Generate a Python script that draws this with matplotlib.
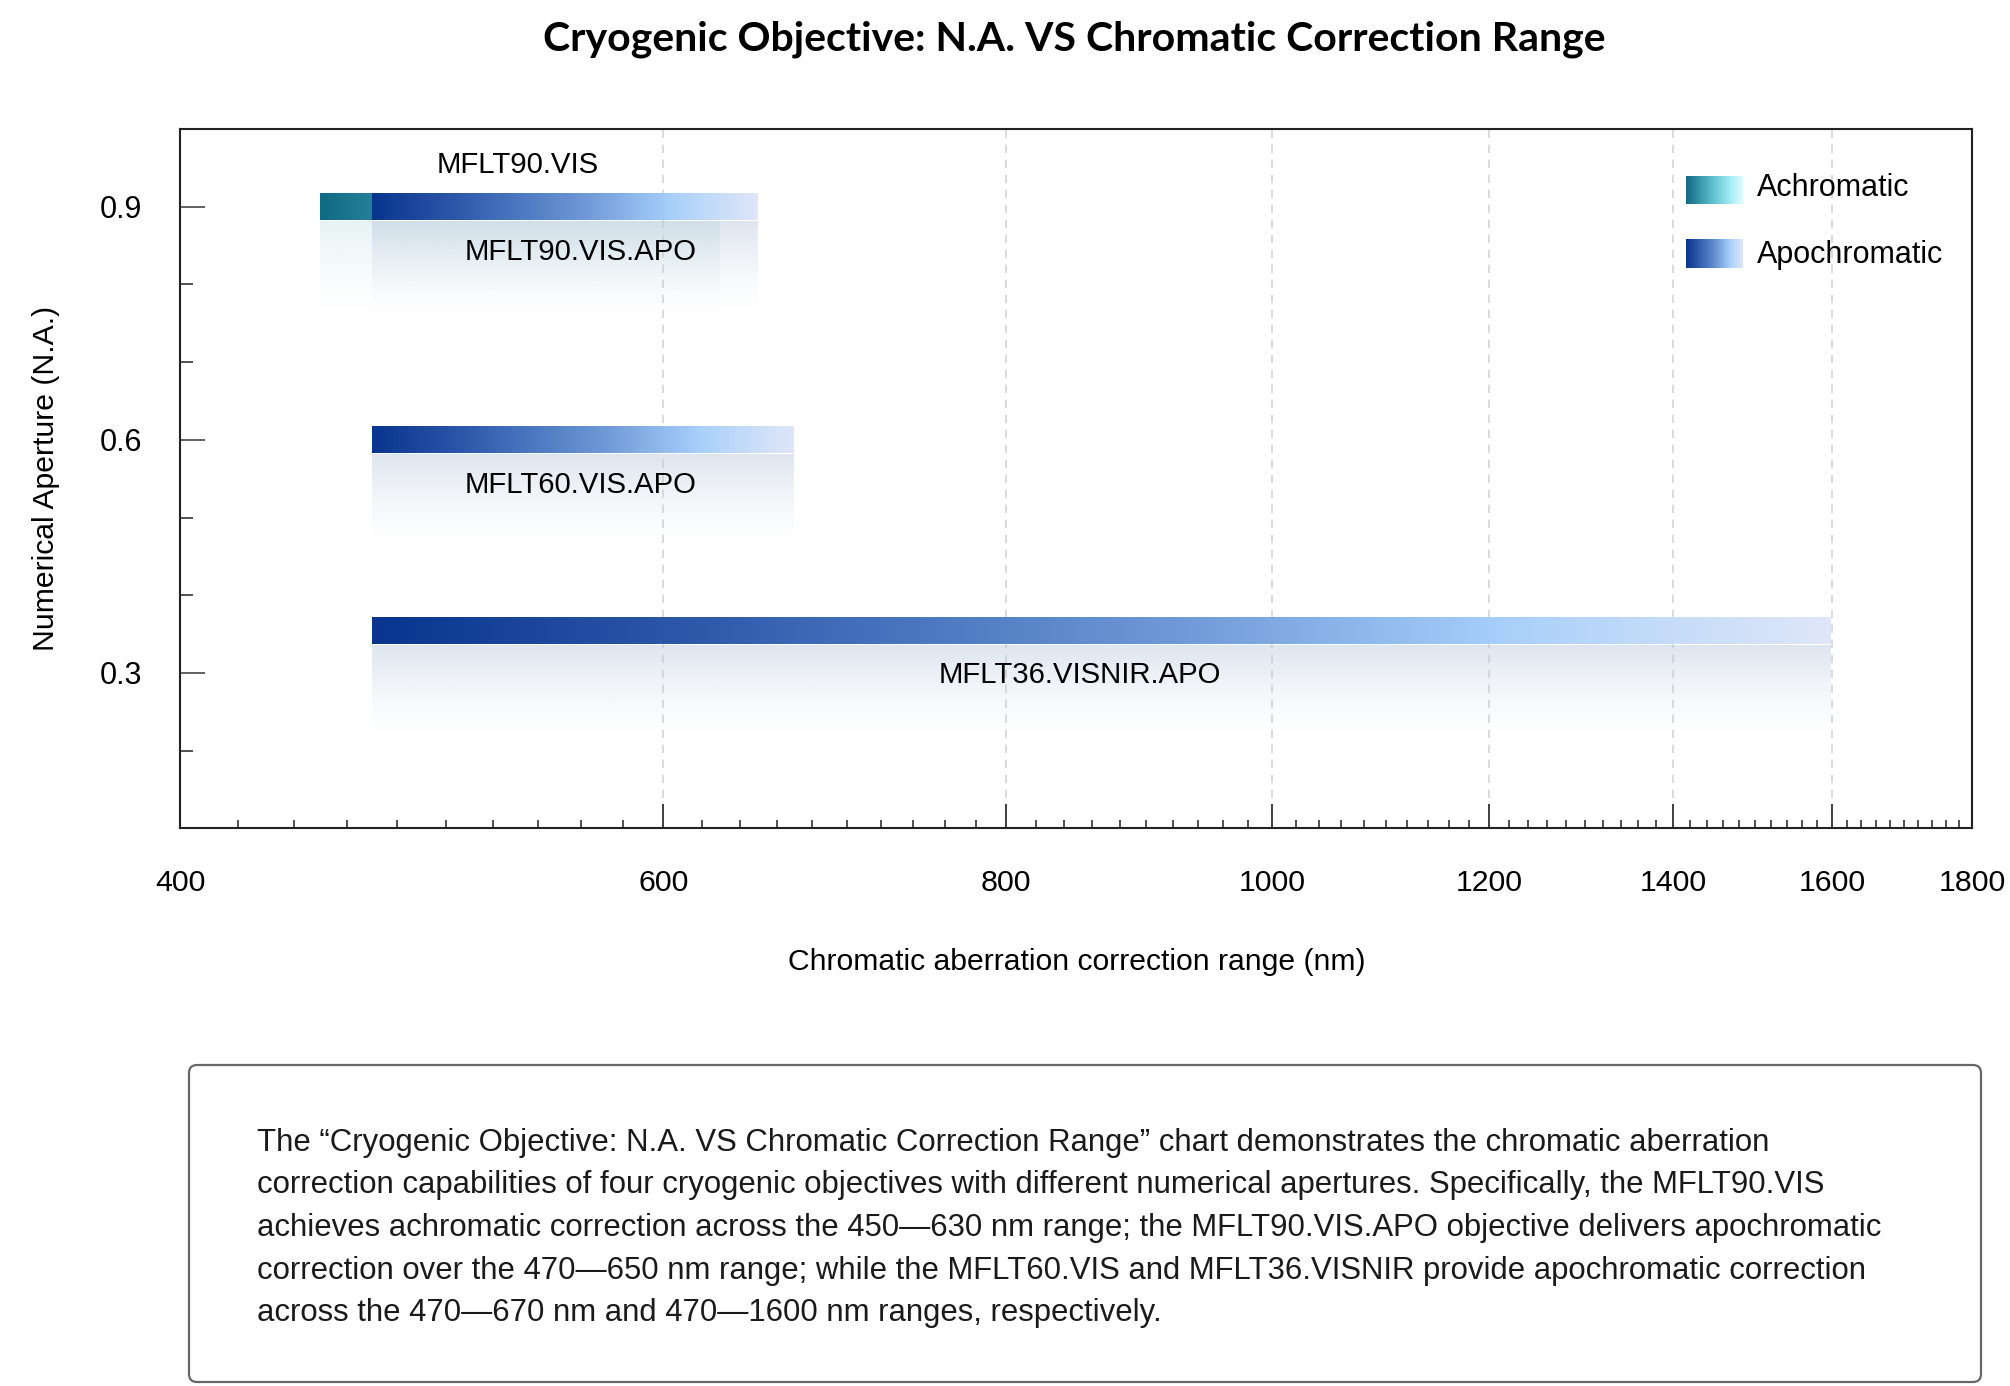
import numpy as np
import matplotlib

matplotlib.use("Agg")
import matplotlib.pyplot as plt
from matplotlib.colors import LinearSegmentedColormap, to_rgb
from matplotlib.patches import FancyBboxPatch
from matplotlib.ticker import FixedLocator, FixedFormatter, NullFormatter

# --- data -------------------------------------------------------------
objectives = ["MFLT90.VIS", "MFLT90.VIS.APO", "MFLT60.VIS.APO", "MFLT36.VISNIR.APO"]
na_values = [0.9, 0.9, 0.6, 0.355]
range_start = [450, 470, 470, 470]
range_end = [630, 650, 670, 1600]
correction = ["Achromatic", "Apochromatic", "Apochromatic", "Apochromatic"]
# where each name sits along x (nm)
label_x = [531, 560, 560, 851]

x_ticks = [400, 600, 800, 1000, 1200, 1400, 1600, 1800]
y_ticks = [0.3, 0.6, 0.9]
y_minor = [0.2, 0.4, 0.5, 0.7, 0.8]

title = "Cryogenic Objective: N.A. VS Chromatic Correction Range"
x_label = "Chromatic aberration correction range (nm)"
y_label = "Numerical Aperture (N.A.)"
description = [
    "The \u201cCryogenic Objective: N.A. VS Chromatic Correction Range\u201d chart demonstrates the chromatic aberration",
    "correction capabilities of four cryogenic objectives with different numerical apertures. Specifically, the MFLT90.VIS",
    "achieves achromatic correction across the 450\u2014630 nm range; the MFLT90.VIS.APO objective delivers apochromatic",
    "correction over the 470\u2014650 nm range; while the MFLT60.VIS and MFLT36.VISNIR provide apochromatic correction",
    "across the 470\u2014670 nm and 470\u20141600 nm ranges, respectively.",
]

# --- styles -----------------------------------------------------------
ach_cmap = LinearSegmentedColormap.from_list(
    "ach", [(0, "#0f6a84"), (0.45, "#5bbccb"), (0.8, "#a8eef6"), (1, "#e2fbfd")]
)
apo_cmap = LinearSegmentedColormap.from_list(
    "apo",
    [(0, "#0a358e"), (0.2, "#2a55a8"), (0.4, "#4f7cc3"), (0.55, "#6f99d6"),
     (0.7, "#94bdf0"), (0.78, "#a9d0fa"), (0.88, "#c3dbf9"), (1, "#dfe6f8")],
)
cmaps = {"Achromatic": ach_cmap, "Apochromatic": apo_cmap}
shadow_colors = {"Achromatic": "#c9e6e8", "Apochromatic": "#b9c8dc"}

BAR_H = 0.035
SHADOW_H = 0.122
LABEL_FONT = ["Liberation Sans", "DejaVu Sans"]

fig = plt.figure(figsize=(20.1, 13.86), dpi=100)
ax = fig.add_axes([0.0896, 0.4023, 0.8917, 0.5047])
ax.set_xscale("log")


def gradient_bar(ax, x0, x1, y, cmap):
    # colour runs evenly across the bar in screen space (log x)
    xs = np.linspace(x0, x1, 1200)
    frac = np.log(xs / x0) / np.log(x1 / x0)
    img = cmap(frac)[np.newaxis, :, :]
    ax.imshow(img, aspect="auto", origin="lower", interpolation="bilinear",
              extent=(x0, x1, y - BAR_H / 2, y + BAR_H / 2), zorder=3)


def bar_shadow(ax, x0, x1, y, color, alpha=0.48):
    fade = np.linspace(1, 0, 120) ** 1.5
    rgba = np.zeros((120, 1, 4))
    rgba[..., :3] = to_rgb(color)
    rgba[:, 0, 3] = alpha * fade
    ax.imshow(rgba, aspect="auto", origin="upper", interpolation="bilinear",
              extent=(x0, x1, y - BAR_H / 2 - SHADOW_H, y - BAR_H / 2), zorder=1)


for name, na, x0, x1, kind, lx in zip(objectives, na_values, range_start, range_end,
                                      correction, label_x):
    bar_shadow(ax, x0, x1, na, shadow_colors[kind])
    gradient_bar(ax, x0, x1, na, cmaps[kind])
    ly = na + 0.054 if kind == "Achromatic" else na - 0.058
    ax.text(lx, ly, name, ha="center", va="center", fontsize=21.2,
            family=LABEL_FONT, zorder=5)

ax.set_xlim(400, 1800)
ax.set_ylim(0.1, 1.0)

ax.xaxis.set_major_locator(FixedLocator(x_ticks))
ax.xaxis.set_major_formatter(FixedFormatter([str(t) for t in x_ticks]))
ax.xaxis.set_minor_locator(FixedLocator([v for v in range(420, 1800, 20) if v % 200]))
ax.xaxis.set_minor_formatter(NullFormatter())
ax.yaxis.set_major_locator(FixedLocator(y_ticks))
ax.yaxis.set_major_formatter(FixedFormatter([f"{t:.1f}" for t in y_ticks]))
ax.yaxis.set_minor_locator(FixedLocator(y_minor))

ax.tick_params(axis="x", which="major", direction="in", length=17, width=1.3,
               color="#333333", pad=29, labelsize=21.8)
ax.tick_params(axis="x", which="minor", direction="in", length=6, width=1.2, color="#333333")
ax.tick_params(axis="y", which="major", direction="in", length=18, width=1.3,
               color="#555555", pad=27, labelsize=22)
ax.tick_params(axis="y", which="minor", direction="in", length=9, width=1.2, color="#333333")
for lab in ax.get_xticklabels() + ax.get_yticklabels():
    lab.set_family(LABEL_FONT)

ax.grid(axis="x", which="major", color="#d4d4d4", linestyle=(0, (5, 4)), linewidth=1.2, zorder=0.5)
ax.set_axisbelow(True)
for sp in ax.spines.values():
    sp.set_linewidth(1.5)
    sp.set_color("#222222")

ax.set_xlabel(x_label, fontsize=21.7, family=LABEL_FONT)
ax.xaxis.set_label_coords(0.5, -0.171)
ax.set_ylabel(y_label, fontsize=21.7, family=LABEL_FONT)
ax.yaxis.set_label_coords(-0.067, 0.5)

fig.text(0.5345, 0.972, title, ha="center", va="center", fontsize=29.5,
         fontweight="bold", family=["Lato", "DejaVu Sans"])

# legend with gradient swatches
for i, kind in enumerate(["Achromatic", "Apochromatic"]):
    bottom = 0.8528 - i * 0.0460
    lax = fig.add_axes([0.8388, bottom, 0.0279, 0.0205])
    lax.imshow(np.linspace(0, 1, 256).reshape(1, -1), cmap=cmaps[kind], aspect="auto")
    lax.axis("off")
    fig.text(0.874, bottom + 0.0115 - i * 0.002, kind, ha="left", va="center", fontsize=22,
             family=LABEL_FONT)

# description box
box = FancyBboxPatch((1.89, 0.04), 17.92, 3.17, boxstyle="round,pad=0,rounding_size=0.08",
                     transform=fig.dpi_scale_trans, facecolor="white",
                     edgecolor="#666666", linewidth=1.6)
fig.patches.append(box)
for i, line in enumerate(description):
    y_px = 1151 + i * 42.5
    fig.text(257 / 2010, 1 - y_px / 1386, line, ha="left", va="baseline", fontsize=22.4,
             family=LABEL_FONT, color="#1a1a1a")

fig.savefig("out.png", dpi=100, facecolor="white")
